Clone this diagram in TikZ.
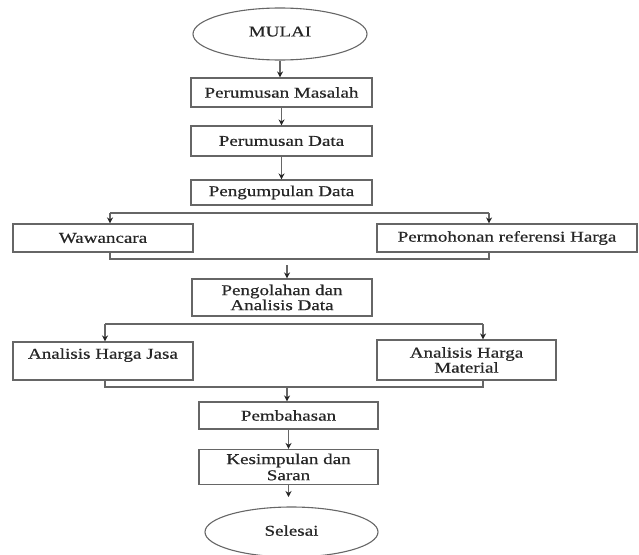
\documentclass[tikz,border=0pt]{standalone}
\usepackage{fontspec}
\setmainfont[FakeStretch=1.27,FakeBold=0.6]{Liberation Serif}
\usetikzlibrary{shapes.geometric,arrows.meta}
\definecolor{ln}{HTML}{666666}
\definecolor{tx}{HTML}{262626}
\tikzset{
  box/.style={draw=ln, line width=1.1pt, rectangle, inner sep=0pt, align=center},
  term/.style={draw=ln, line width=1.1pt, ellipse, inner sep=0pt},
  conn/.style={draw=ln, line width=1.1pt},
  arr/.style={conn, -{Stealth[length=6pt,width=6pt,color=black!85]}},
}
\begin{document}
\begin{tikzpicture}[x=1pt,y=-1pt,font=\fontsize{15}{15}\selectfont,text=tx]
\useasboundingbox (0,0) rectangle (639,554);
% nodes
\node[term, minimum width=174pt, minimum height=52pt] (mulai) at (280,34) {\raisebox{5pt}{MULAI}};
\node[box, minimum width=181pt, minimum height=29pt] (pm) at (281.5,92.5) {Perumusan Masalah};
\node[box, minimum width=181pt, minimum height=30pt] (pd) at (281.5,141) {Perumusan Data};
\node[box, minimum width=181pt, minimum height=25pt] (pg) at (281.5,192.5) {Pengumpulan Data};
\node[box, minimum width=180pt, minimum height=28pt] (ww) at (103,238) {Wawancara};
\node[box, minimum width=260pt, minimum height=28pt] (pr) at (507,238) {Permohonan referensi Harga};
\node[box, minimum width=180pt, minimum height=37pt] (po) at (282,297.5) {Pengolahan dan\\Analisis Data};
\node[box, minimum width=180pt, minimum height=38pt] (aj) at (103,361) {Analisis Harga Jasa\\\mbox{}};
\node[box, minimum width=179pt, minimum height=40pt] (am) at (466.5,360) {Analisis Harga\\Material};
\node[box, minimum width=179pt, minimum height=27pt] (pb) at (288.5,415.5) {Pembahasan};
\node[box, minimum width=179pt, minimum height=35pt] (ks) at (288.5,467) {\raisebox{-2pt}{\shortstack{Kesimpulan dan\\Saran}}};
\node[term, minimum width=173pt, minimum height=50pt] (sl) at (291.5,532) {\raisebox{3pt}{Selesai}};
% coordinates
\coordinate (t1) at (110,213);
\coordinate (t2) at (489,213);
\coordinate (b1) at (110,259);
\coordinate (b2) at (489,259);
\coordinate (c1) at (287,265);
\coordinate (t3) at (105,324);
\coordinate (t4) at (483,324);
\coordinate (b3) at (105,387);
\coordinate (b4) at (483,387);
\coordinate (c2) at (287,387);
\coordinate (e1) at (288.5,497);
% connectors
\draw[arr] (mulai.south) -- (mulai.south |- pm.north);
\draw[arr] (pm) -- (pd);
\draw[arr] (pd) -- (pg);
\draw[conn] (t1) -- (t2);
\draw[arr] (t1) -- (ww.north -| t1);
\draw[arr] (t2) -- (pr.north -| t2);
\draw[conn] (ww.south -| b1) -- (b1) -- (b2) -- (pr.south -| b2);
\draw[arr] (c1) -- (po.north -| c1);
\draw[conn] (t3) -- (t4);
\draw[arr] (t3) -- (aj.north -| t3);
\draw[arr] (t4) -- (am.north -| t4);
\draw[conn] (aj.south -| b3) -- (b3) -- (b4) -- (am.south -| b4);
\draw[arr] (c2) -- (pb.north -| c2);
\draw[arr] (pb) -- (ks);
\draw[arr] (ks.south) -- (e1);
\end{tikzpicture}
\end{document}
